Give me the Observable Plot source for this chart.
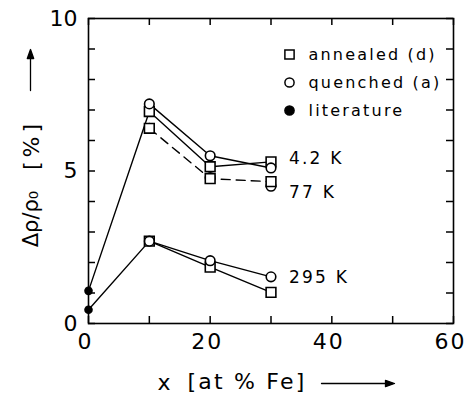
<!DOCTYPE html>
<html>
<head>
<meta charset="utf-8">
<script src="https://cdn.jsdelivr.net/npm/d3@7"></script>
<script src="https://cdn.jsdelivr.net/npm/@observablehq/plot@0.6"></script>
<style>
  html, body { margin: 0; padding: 0; background: #fff; }
  svg { font-family: "DejaVu Sans", sans-serif; }
</style>
</head>
<body>
<div id="chart"></div>
<script>
// ---- data ----
const conc = [10, 20, 30];                 // x [at % Fe]
const annealed42 = [6.95, 5.14, 5.30];     // 4.2 K, annealed (d)
const quenched42 = [7.2, 5.5, 5.1];        // 4.2 K, quenched (a)
const annealed77 = [6.4, 4.75, 4.65];      // 77 K, annealed (d)
const quenched77 = [6.4, 4.78, 4.5];       // 77 K, quenched (a)
const annealed295 = [2.7, 1.85, 1.02];     // 295 K, annealed (d)
const quenched295 = [2.7, 2.06, 1.53];     // 295 K, quenched (a)
const litConc = [0, 0];                    // literature
const litValue = [1.07, 0.45];

const xDomain = [0, 60];
const yDomain = [0, 10];
const xTicks = [0, 10, 20, 30, 40, 50, 60];
const xTickLabels = [0, 20, 40, 60];
const yTicks = [0, 1, 2, 3, 4, 5, 6, 7, 8, 9, 10];
const yTickLabels = [0, 5, 10];
const legendLabels = ["annealed (d)", "quenched (a)", "literature"];
const legendSymbols = ["square", "circle", "circle"];
const legendFills = ["white", "white", "black"];
const tempLabels = ["4.2 K", "77 K", "295 K"];
const xTitleParts = ["x", "[at % Fe]"];
const yTitleParts = ["\u0394\u03C1/\u03C1\u2080", "[%]"];

// ---- build tables ----
const pts = (arr, series) => arr.map((v, i) => ({x: conc[i], y: v, series}));
const a42 = pts(annealed42, "a42"), q42 = pts(quenched42, "q42");
const a77 = pts(annealed77, "a77"), q77 = pts(quenched77, "q77");
const a295 = pts(annealed295, "a295"), q295 = pts(quenched295, "q295");
const lit = litConc.map((x, i) => ({x, y: litValue[i]}));
const riseHigh = [lit[0], a42[0]];
const riseLow = [lit[1], a295[0]];

const W = 466, H = 395, ML = 88, MR = 13, MT = 18, MB = 72;
const frameW = W - ML - MR, frameH = H - MT - MB, TICK = 7;
const tickLenX = TICK / frameW * (xDomain[1] - xDomain[0]);
const tickLenY = TICK / frameH * (yDomain[1] - yDomain[0]);

const font = "DejaVu Sans, sans-serif";
const lineOpts = {x: "x", y: "y", stroke: "black", strokeWidth: 1.4};
const sq = {x: "x", y: "y", symbol: "square", r: 5.5, fill: "white", stroke: "black", strokeWidth: 1.6};
const ci = {x: "x", y: "y", symbol: "circle", r: 4.8, fill: "white", stroke: "black", strokeWidth: 1.6};
const tickOpts = {stroke: "black", strokeWidth: 1.5};
const tag = name => ({ariaLabel: () => name});

// arrow shape: thin shaft and small filled head
const arrowShape = {
  draw(context, l) {
    context.moveTo(0, 0);
    context.lineTo(0, -l + 7);
    context.moveTo(-3.2, -l + 9);
    context.lineTo(0, -l);
    context.lineTo(3.2, -l + 9);
    context.closePath();
  }
};

const legendMarks = legendLabels.flatMap((lab, i) => [
  Plot.dot([lab], {frameAnchor: "top-left", dx: 201, dy: 36 + i * 28, symbol: legendSymbols[i],
    r: legendSymbols[i] === "square" ? 5.2 : 4.6, fill: legendFills[i], stroke: "black", strokeWidth: 1.5}),
  Plot.text([lab], {frameAnchor: "top-left", dx: 220, dy: 36 + i * 28, text: d => d, ...tag("spaced"),
    textAnchor: "start", lineAnchor: "middle", fontSize: 16, fill: "black"})
]);

const chart = Plot.plot({
  width: W,
  height: H,
  marginLeft: ML,
  marginRight: MR,
  marginTop: MT,
  marginBottom: MB,
  style: {fontFamily: font, background: "white", color: "black"},
  x: {domain: xDomain},
  y: {domain: yDomain},
  marks: [
    // inward ticks on all four sides
    Plot.ruleX(xTicks, {x: d => d, y1: () => yDomain[0], y2: () => yDomain[0] + tickLenY, ...tickOpts}),
    Plot.ruleX(xTicks, {x: d => d, y1: () => yDomain[1], y2: () => yDomain[1] - tickLenY, ...tickOpts}),
    Plot.ruleY(yTicks, {y: d => d, x1: () => xDomain[0], x2: () => xDomain[0] + tickLenX, ...tickOpts}),
    Plot.ruleY(yTicks, {y: d => d, x1: () => xDomain[1], x2: () => xDomain[1] - tickLenX, ...tickOpts}),
    Plot.frame({stroke: "black", strokeWidth: 1.6}),
    // tick labels
    Plot.axisX({anchor: "bottom", ticks: xTickLabels, tickSize: 0, tickPadding: 10, dx: -3,
      fontSize: 22, label: null}),
    Plot.axisY({anchor: "left", ticks: yTickLabels, tickSize: 0, tickPadding: 11,
      fontSize: 22, label: null}),
    // lines
    Plot.line(riseHigh, lineOpts),
    Plot.line(riseLow, lineOpts),
    Plot.line(a42, lineOpts),
    Plot.line(q42, lineOpts),
    Plot.line(a77, {...lineOpts, strokeDasharray: "9,6"}),
    Plot.line(a295, lineOpts),
    Plot.line(q295, lineOpts),
    // markers
    Plot.dot(q77, ci),
    Plot.dot(a77, sq),
    Plot.dot(a42, sq),
    Plot.dot(q42, ci),
    Plot.dot(a295, sq),
    Plot.dot(q295, ci),
    Plot.dot(lit, {x: "x", y: "y", r: 4.3, fill: "black"}),
    // temperature labels
    Plot.text([a42[2]], {x: "x", y: "y", text: () => tempLabels[0], dx: 18, dy: -3, textAnchor: "start", fontSize: 17, ...tag("spaced")}),
    Plot.text([a77[2]], {x: "x", y: "y", text: () => tempLabels[1], dx: 18, dy: 11, textAnchor: "start", fontSize: 17, ...tag("spaced")}),
    Plot.text([q295[2]], {x: "x", y: "y", text: () => tempLabels[2], dx: 18, dy: 1, textAnchor: "start", fontSize: 17, ...tag("spaced")}),
    // legend
    ...legendMarks,
    // x axis title
    Plot.text([xTitleParts[0]], {frameAnchor: "bottom", dx: -107, dy: 59, text: d => d,
      textAnchor: "middle", lineAnchor: "middle", fontSize: 22}),
    Plot.text([xTitleParts[1]], {frameAnchor: "bottom", dx: -24, dy: 58, text: d => d,
      textAnchor: "middle", lineAnchor: "middle", fontSize: 22, ...tag("xtitle")}),
    Plot.vector([0], {frameAnchor: "bottom", dx: 321 - 270.5, dy: 60, length: 73, rotate: 90,
      anchor: "start", shape: arrowShape, stroke: "black", fill: "black", strokeWidth: 1.3}),
    // y axis title
    Plot.text([yTitleParts[0]], {frameAnchor: "left", dx: -57, dy: 48, rotate: -90, text: d => d,
      textAnchor: "middle", lineAnchor: "middle", fontSize: 21}),
    Plot.text([yTitleParts[1]], {frameAnchor: "left", dx: -57, dy: -26, rotate: -90, text: d => d,
      textAnchor: "middle", lineAnchor: "middle", fontSize: 22, ...tag("ytitle")}),
    Plot.vector([0], {frameAnchor: "left", dx: -58, dy: 90 - 170.5, length: 41, rotate: 0,
      anchor: "start", shape: arrowShape, stroke: "black", fill: "black", strokeWidth: 1.3})
  ]
});
const svg = d3.select(chart);
const spacing = (name, px) => svg.selectAll(`[aria-label="${name}"], [aria-label="${name}"] text`).style("letter-spacing", px);
spacing("spaced", "2.2px");
spacing("xtitle", "2.2px");
spacing("ytitle", "4px");
svg.selectAll('g[aria-label="x-axis tick label"] text').style("letter-spacing", "2px");
document.getElementById("chart").appendChild(chart);
</script>
</body>
</html>
